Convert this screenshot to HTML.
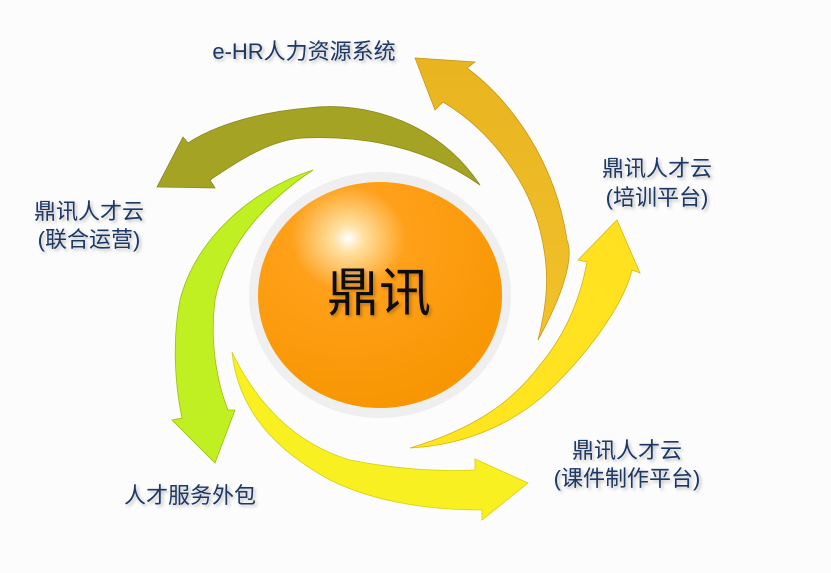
<!DOCTYPE html>
<html><head><meta charset="utf-8"><style>
html,body{margin:0;padding:0;background:#fcfcfc;}
svg{display:block}
text{font-family:"Liberation Sans","Noto Sans CJK SC",sans-serif;fill:#1f3864;}
</style></head><body>
<svg width="831" height="573" viewBox="0 0 831 573" xmlns="http://www.w3.org/2000/svg">
<defs>
<radialGradient id="ball" cx="0.37" cy="0.25" r="0.78">
<stop offset="0" stop-color="#ffffff"/>
<stop offset="0.08" stop-color="#ffe0a0"/>
<stop offset="0.3" stop-color="#ffa01a"/>
<stop offset="1" stop-color="#f79600"/>
</radialGradient>
<filter id="sh" x="-10%" y="-10%" width="130%" height="140%"><feDropShadow dx="2" dy="2" stdDeviation="1.5" flood-color="#000" flood-opacity="0.25"/></filter>
<linearGradient id="gold" x1="0" y1="0" x2="0" y2="1"><stop offset="0" stop-color="#e8b420"/><stop offset="1" stop-color="#f2c22a"/></linearGradient>
<linearGradient id="yel" x1="0" y1="1" x2="1" y2="0"><stop offset="0" stop-color="#ffe620"/><stop offset="1" stop-color="#ffe020"/></linearGradient>
</defs>

<ellipse cx="380" cy="295" rx="131" ry="123" fill="#efefef"/>
<ellipse cx="380" cy="295" rx="122" ry="113" fill="url(#ball)"/>

<path d="M480,185 C440,125 370,100 307,108 C260,112 215,125 188,143 L183,137 L157,187 L215,188 L210,180 C240,160 270,140 303,138 C370,135 430,150 480,185 Z" fill="#a5a324" stroke="#8a881a" stroke-width="0.8"/>

<path d="M538,340 C560,300 575,260 567,240 C555,160 510,100 467,68 L475,62 L415,58 L435,110 L443,102 C490,130 527,180 540,230 C550,270 548,300 538,340 Z" fill="url(#gold)" stroke="#c99a14" stroke-width="0.8"/>

<path d="M410,448 C470,445 520,420 555,385 C595,345 625,300 632,270 L640,273 L617,220 L578,260 L587,262 C580,300 565,335 540,365 C510,405 470,430 410,448 Z" fill="url(#yel)" stroke="#d8b810" stroke-width="0.8"/>

<path d="M232,352 C238,410 275,450 330,480 C380,505 440,510 482,510 L482,520 L528,483 L475,459 L475,470 C430,472 390,468 350,460 C300,445 260,410 232,352 Z" fill="#f8f020" stroke="#d8d010" stroke-width="0.8"/>

<path d="M313,170 C250,190 195,240 180,300 C172,340 175,385 182,418 L172,420 L215,463 L235,410 L228,410 C216,380 210,340 215,300 C225,250 260,205 313,170 Z" fill="#c0ef22" stroke="#9ac010" stroke-width="0.8"/>

<text x="379" y="311" text-anchor="middle" font-size="52" style="fill:#111" filter="url(#sh)">鼎讯</text>

<g font-size="22" filter="url(#sh)">
<text x="304" y="59" text-anchor="middle">e-HR人力资源系统</text>
<text x="657" y="176" text-anchor="middle">鼎讯人才云</text>
<text x="657" y="205" text-anchor="middle">(培训平台)</text>
<text x="89" y="219" text-anchor="middle">鼎讯人才云</text>
<text x="89" y="247" text-anchor="middle">(联合运营)</text>
<text x="190" y="503" text-anchor="middle">人才服务外包</text>
<text x="627" y="458" text-anchor="middle">鼎讯人才云</text>
<text x="627" y="486" text-anchor="middle">(课件制作平台)</text>
</g>
</svg>
</body></html>
